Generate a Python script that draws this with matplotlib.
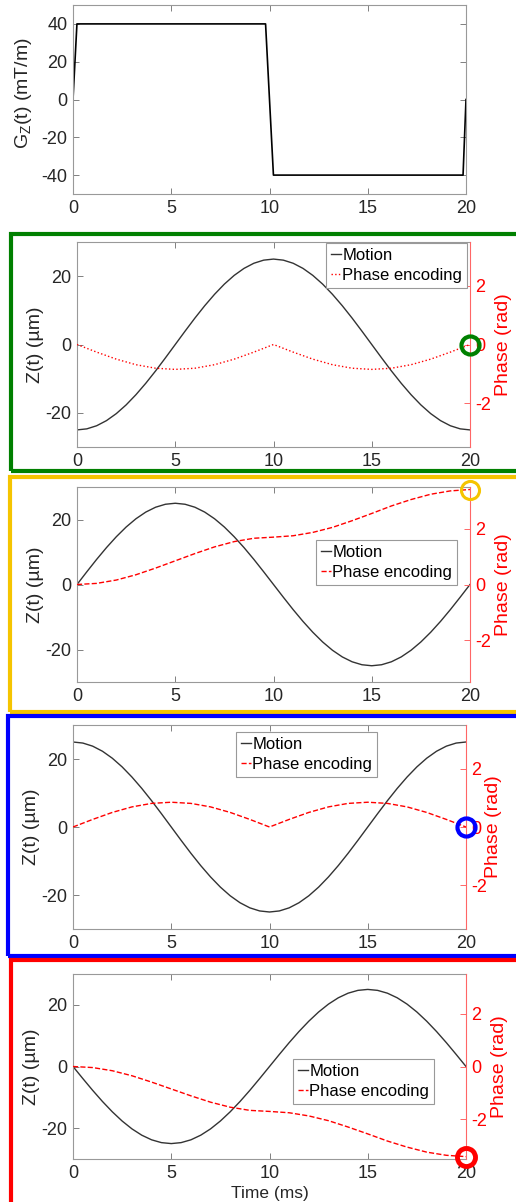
import numpy as np
import matplotlib
matplotlib.use('Agg')
import matplotlib.pyplot as plt
from matplotlib.lines import Line2D
from matplotlib.patches import Rectangle

plt.rcParams['font.family'] = ['Liberation Sans', 'DejaVu Sans']
plt.rcParams['axes.unicode_minus'] = False
plt.rcParams['mathtext.default'] = 'regular'

# gradient waveform (ms, mT/m)
grad_t = [0, 0.2, 9.8, 10.2, 19.85, 20]
grad_g = [0, 40, 40, -40, -40, 0]

# motion, um, every 0.5 ms
t_motion = [i * 0.5 for i in range(41)]
motion_sin = [0, 3.91, 7.73, 11.35, 14.69, 17.68, 20.23, 22.28, 23.78, 24.69, 25.0,
              24.69, 23.78, 22.28, 20.23, 17.68, 14.69, 11.35, 7.73, 3.91, 0,
              -3.91, -7.73, -11.35, -14.69, -17.68, -20.23, -22.28, -23.78, -24.69, -25.0,
              -24.69, -23.78, -22.28, -20.23, -17.68, -14.69, -11.35, -7.73, -3.91, 0]
motion_cos = [25.0, 24.69, 23.78, 22.28, 20.23, 17.68, 14.69, 11.35, 7.73, 3.91, 0,
              -3.91, -7.73, -11.35, -14.69, -17.68, -20.23, -22.28, -23.78, -24.69, -25.0,
              -24.69, -23.78, -22.28, -20.23, -17.68, -14.69, -11.35, -7.73, -3.91, 0,
              3.91, 7.73, 11.35, 14.69, 17.68, 20.23, 22.28, 23.78, 24.69, 25.0]

# accumulated phase, rad, every 1 ms
t_phase = list(range(21))
phase_bump = [0, -0.26, -0.50, -0.69, -0.81, -0.85, -0.81, -0.69, -0.50, -0.26, 0,
              -0.26, -0.50, -0.69, -0.81, -0.85, -0.81, -0.69, -0.50, -0.26, 0]
phase_ramp = [0, 0.04, 0.16, 0.35, 0.59, 0.85, 1.11, 1.35, 1.54, 1.66, 1.70,
              1.75, 1.87, 2.05, 2.29, 2.55, 2.82, 3.05, 3.24, 3.36, 3.41]

W, H = 516, 1202
fig = plt.figure(figsize=(W / 100, H / 100), dpi=100)


def px_axes(l, t, r, b):
    return fig.add_axes([l / W, 1 - b / H, (r - l) / W, (b - t) / H])


def style(ax):
    for s in ax.spines.values():
        s.set_color('0.6')
        s.set_linewidth(0.8)
    ax.tick_params(direction='in', length=4, width=0.7, color='0.5', labelcolor='0.15',
                   labelsize=13, pad=4, top=True)
    ax.set_xlim(0, 20)
    ax.set_xticks([0, 5, 10, 15, 20])


# top panel: gradient
ax0 = px_axes(73, 5, 466, 194)
ax0.plot(grad_t, grad_g, color='black', lw=1.2)
style(ax0)
ax0.tick_params(right=True)
ax0.set_ylim(-50, 50)
ax0.set_yticks([-40, -20, 0, 20, 40])
fig.text(24 / W, 1 - 93 / H, 'G$_{Z}$(t) (mT/m)', rotation=90, ha='center', va='center',
         fontsize=14, color='0.15')

panels = [
    # box px, motion, phase, phase style, legend corner, frame color, frame px, ylabel x
    dict(box=(77, 242, 470, 447), z=-np.array(motion_cos), ph=np.array(phase_bump), ls=':',
         leg=(326, 243), col='#008000', frame=(10.5, 233.5, 535, 471), rl=503, mew=3),
    dict(box=(77, 487, 470, 682), z=np.array(motion_sin), ph=np.array(phase_ramp), ls='--',
         leg=(316, 540), col='#f5c400', frame=(10, 477, 535, 712), rl=503, mew=2.2),
    dict(box=(73, 725, 466, 929), z=np.array(motion_cos), ph=-np.array(phase_bump), ls='--',
         leg=(236, 732), col='#0000ff', frame=(8, 716, 535, 956), rl=494, mew=3),
    dict(box=(73, 974, 466, 1159), z=-np.array(motion_sin), ph=-np.array(phase_ramp), ls='--',
         leg=(293, 1059), col='#ff0000', frame=(11, 960, 535, 1220), rl=500, mew=3.5),
]

for p in panels:
    l, t, r, b = p['box']
    ax = px_axes(l, t, r, b)
    ax.plot(t_motion, p['z'], color='0.2', lw=1.0)
    style(ax)
    ax.spines['right'].set_visible(False)
    ax.set_ylim(-30, 30)
    ax.set_yticks([-20, 0, 20])
    fig.text((l - 42) / W, 1 - (t + b) / 2 / H, 'Z(t) (µm)', rotation=90, ha='center',
             va='center', fontsize=14, color='0.15')

    ax2 = ax.twinx()
    ax2.plot(t_phase, p['ph'], color='#ff0000', lw=1.0, ls=p['ls'])
    ax2.plot([t_phase[-1]], [p['ph'][-1]], 'o', ms=13, mfc='none', mec=p['col'],
             mew=p['mew'], clip_on=False, zorder=5)
    ax2.set_ylim(-3.5, 3.5)
    ax2.set_yticks([-2, 0, 2])
    for s in ['left', 'top', 'bottom']:
        ax2.spines[s].set_visible(False)
    ax2.spines['right'].set_color('#ff6666')
    ax2.spines['right'].set_linewidth(0.8)
    ax2.tick_params(direction='in', length=4, width=0.7, color='#ff6666', labelcolor='#ff0000',
                    labelsize=13, pad=4)
    fig.text(p['rl'] / W, 1 - (t + b) / 2 / H, 'Phase (rad)', rotation=90, ha='center',
             va='center', fontsize=14, color='#ff0000')

    handles = [Line2D([], [], color='0.2', lw=1.0),
               Line2D([], [], color='#ff0000', lw=1.0, ls=p['ls'])]
    lx, ly = p['leg']
    leg = ax2.legend(handles, ['Motion', 'Phase encoding'], loc='upper left',
                     bbox_to_anchor=(lx / W, 1 - ly / H), bbox_transform=fig.transFigure,
                     borderaxespad=0, fancybox=False, edgecolor='0.6', framealpha=1,
                     fontsize=12, handlelength=0.6, handletextpad=0.1, borderpad=0.28,
                     labelspacing=0.32)
    leg.get_frame().set_linewidth(0.8)

    fl, ft, fr, fb = p['frame']
    fig.add_artist(Rectangle((fl / W, 1 - fb / H), (fr - fl) / W, (fb - ft) / H, fill=False,
                             edgecolor=p['col'], lw=3, transform=fig.transFigure, clip_on=False))

fig.text(270 / W, 1 - 1201 / H, 'Time (ms)', ha='center', va='bottom', fontsize=12.5,
         color='0.15')

fig.savefig('out.png', dpi=100)
